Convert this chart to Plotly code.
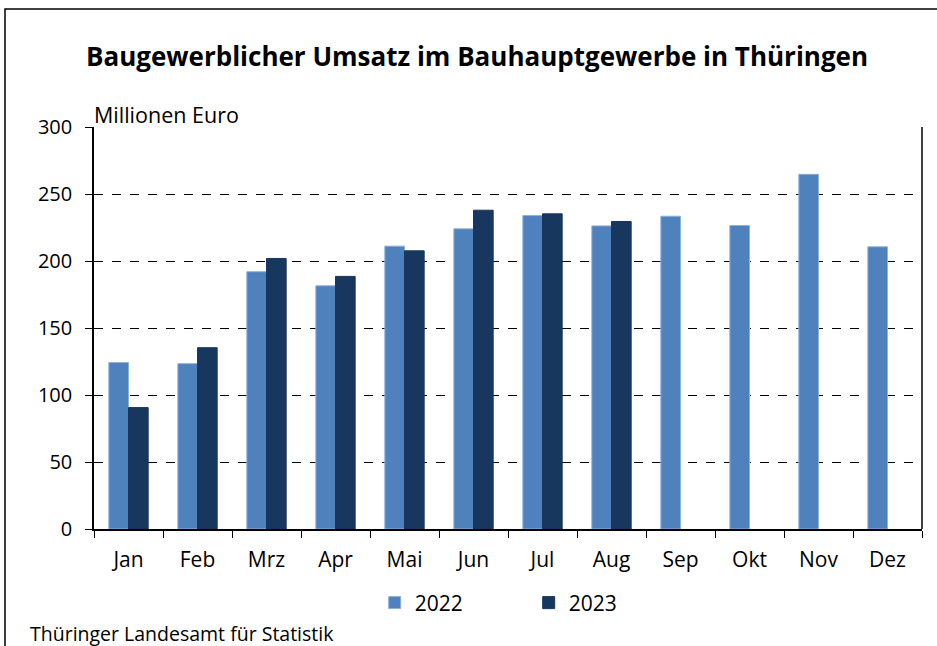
import plotly.graph_objects as go

months = ["Jan", "Feb", "Mrz", "Apr", "Mai", "Jun", "Jul", "Aug", "Sep", "Okt", "Nov", "Dez"]
v2022 = [124.2, 123.4, 192.0, 181.5, 211.1, 224.0, 233.9, 226.2, 233.4, 226.5, 264.7, 210.6]
v2023 = [90.6, 135.3, 201.9, 188.5, 207.6, 237.9, 235.2, 229.5, None, None, None, None]
y_ticks = [0, 50, 100, 150, 200, 250, 300]

FONT = "Open Sans"

fig = go.Figure()
fig.add_trace(go.Bar(x=months, y=v2022, name="2022", marker=dict(color="#4F81BD", line=dict(color="#8DB0DD", width=1))))
fig.add_trace(go.Bar(x=months, y=v2023, name="2023", marker=dict(color="#17375E", line=dict(color="#17375E", width=1))))

fig.update_layout(
    width=937, height=646,
    paper_bgcolor="white", plot_bgcolor="white",
    margin=dict(l=94, r=15, t=127, b=117),
    barmode="group", bargap=0.43, bargroupgap=0,
    font=dict(family=FONT, size=20, color="black"),
    showlegend=True,
    legend=dict(orientation="h", x=0.339, xanchor="left", y=-0.133, yanchor="top",
                entrywidth=109, font=dict(size=21), itemwidth=30),
    title=dict(text="<b>Baugewerblicher Umsatz im Bauhauptgewerbe in Thüringen</b>",
               xref="container", x=477/937, xanchor="center", y=0.912, yanchor="middle",
               font=dict(family=FONT, size=26, color="black")),
)
fig.update_xaxes(type="category", showline=True, linecolor="black", linewidth=1.5,
                 ticks="outside", ticklen=7, tickcolor="black", tickson="boundaries",
                 showgrid=False, ticklabelstandoff=11, tickfont=dict(size=21))
fig.update_yaxes(range=[0, 300], tickvals=y_ticks, showline=True, linecolor="black", linewidth=1.5,
                 ticks="outside", ticklen=7, tickcolor="black",
                 showgrid=True, gridcolor="black", griddash="dash", gridwidth=1,
                 zeroline=False, ticklabelstandoff=9, tickfont=dict(size=20))

fig.add_shape(type="line", xref="x domain", yref="y domain", x0=1, x1=1, y0=0, y1=1,
              line=dict(color="black", width=1.5))
fig.add_shape(type="rect", xref="paper", yref="paper",
              x0=-89/828, x1=1.1, y0=-0.5, y1=(529-9)/402,
              line=dict(color="black", width=1.5), layer="below")

fig.add_annotation(text="Millionen Euro", xref="paper", yref="paper", x=-2/828, y=(529-115)/402,
                   xanchor="left", yanchor="middle", showarrow=False, font=dict(size=21.5))
fig.add_annotation(text="Thüringer Landesamt für Statistik", xref="paper", yref="paper",
                   x=-66/828, y=(529-633)/402, xanchor="left", yanchor="middle",
                   showarrow=False, font=dict(size=19.5))

fig.write_html("out.html", config={"displayModeBar": False},
               post_script="document.body.style.margin='0';document.body.style.overflow='hidden';")
